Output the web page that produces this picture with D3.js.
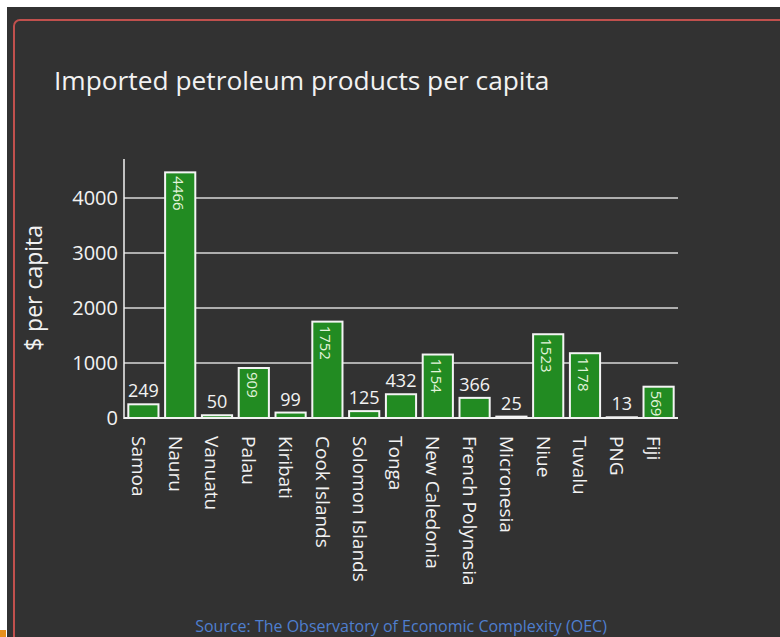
<!DOCTYPE html>
<html>
<head>
<meta charset="utf-8">
<script src="https://cdn.jsdelivr.net/npm/d3@7"></script>
<style>
  html, body { margin: 0; padding: 0; background: #ffffff; }
  svg { display: block; font-family: "Open Sans", "Noto Sans", sans-serif; }
</style>
</head>
<body>
<svg id="chart" width="780" height="637"></svg>
<script>
// Imported petroleum products per capita, Pacific island states ($ per capita)
const categories = ["Samoa", "Nauru", "Vanuatu", "Palau", "Kiribati", "Cook Islands",
  "Solomon Islands", "Tonga", "New Caledonia", "French Polynesia", "Micronesia",
  "Niue", "Tuvalu", "PNG", "Fiji"];
const values = [249, 4466, 50, 909, 99, 1752, 125, 432, 1154, 366, 25, 1523, 1178, 13, 569];
const yTicks = [0, 1000, 2000, 3000, 4000];
const titleText = "Imported petroleum products per capita";
const yTitleText = "$ per capita";
const sourceText = "Source: The Observatory of Economic Complexity (OEC)";

const svg = d3.select("#chart");

// slide frame
svg.append("rect").attr("x", 7).attr("y", 7).attr("width", 800).attr("height", 660)
  .attr("fill", "#323232");
svg.append("rect").attr("x", 14).attr("y", 20).attr("width", 800).attr("height", 660)
  .attr("rx", 6).attr("fill", "none").attr("stroke", "#c0504d").attr("stroke-width", 2);
svg.append("rect").attr("x", 0).attr("y", 630).attr("width", 6).attr("height", 7)
  .attr("fill", "#e8901c");

const x = d3.scaleBand().domain(categories).range([125, 677])
  .paddingInner(0.18).paddingOuter(0.09);
const y = d3.scaleLinear().domain([0, 4700]).range([418, 159.5]);

// gridlines
svg.append("g").selectAll("line").data(yTicks.filter(d => d > 0)).join("line")
  .attr("x1", 124).attr("x2", 678)
  .attr("y1", d => y(d)).attr("y2", d => y(d))
  .attr("stroke", "#d9d9d9").attr("stroke-width", 1.5);

// y axis
const yAxis = svg.append("g").attr("transform", "translate(124,0)")
  .call(d3.axisLeft(y).tickValues(yTicks).tickSize(0).tickPadding(6).tickFormat(d3.format("d")));
yAxis.select(".domain").remove();
yAxis.selectAll("text").attr("fill", "#f2f2f2").attr("font-size", 20)
  .attr("font-family", "'Open Sans', sans-serif");
svg.append("line").attr("x1", 124).attr("x2", 124).attr("y1", 159).attr("y2", 419)
  .attr("stroke", "#f2f2f2").attr("stroke-width", 1.5);

// bars
svg.append("g").selectAll("rect").data(values).join("rect")
  .attr("x", (d, i) => x(categories[i]))
  .attr("y", d => y(d))
  .attr("width", x.bandwidth())
  .attr("height", d => y(0) - y(d))
  .attr("fill", "#228b22")
  .attr("stroke", "#f4f4f4").attr("stroke-width", 2);

// baseline
svg.append("line").attr("x1", 124).attr("x2", 678).attr("y1", y(0)).attr("y2", y(0))
  .attr("stroke", "#f2f2f2").attr("stroke-width", 2);

// value labels: vertical inside tall bars, horizontal above short ones
const inside = d => d >= 500;
svg.append("g").selectAll("text").data(values).join("text")
  .each(function (d, i) {
    const cx = x(categories[i]) + x.bandwidth() / 2;
    const t = d3.select(this).text(d);
    if (inside(d)) {
      t.attr("transform", `translate(${cx - 2},${y(d) + 4}) rotate(90)`)
        .attr("dy", "0.35em").attr("text-anchor", "start")
        .attr("font-size", 15).attr("fill", "#e3f4dc");
    } else {
      t.attr("x", cx).attr("y", y(d) - 7)
        .attr("text-anchor", "middle").attr("font-size", 18).attr("fill", "#f2f2f2");
    }
  });

// category labels
svg.append("g").selectAll("text").data(categories).join("text")
  .attr("transform", d => `translate(${x(d) + x.bandwidth() / 2 - 5},436) rotate(90)`)
  .attr("dy", "0.35em").attr("text-anchor", "start")
  .attr("font-size", 19).attr("fill", "#f2f2f2")
  .text(d => d);

// titles
svg.append("text").attr("x", 54).attr("y", 90).attr("font-size", 26.3).attr("fill", "#f2f2f2")
  .text(titleText);
svg.append("text").attr("transform", "translate(42,288) rotate(-90)")
  .attr("text-anchor", "middle").attr("font-size", 23).attr("fill", "#f2f2f2")
  .text(yTitleText);
svg.append("text").attr("x", 401).attr("y", 632).attr("text-anchor", "middle")
  .attr("font-size", 16).attr("fill", "#4f7fcf")
  .text(sourceText);
</script>
</body>
</html>
